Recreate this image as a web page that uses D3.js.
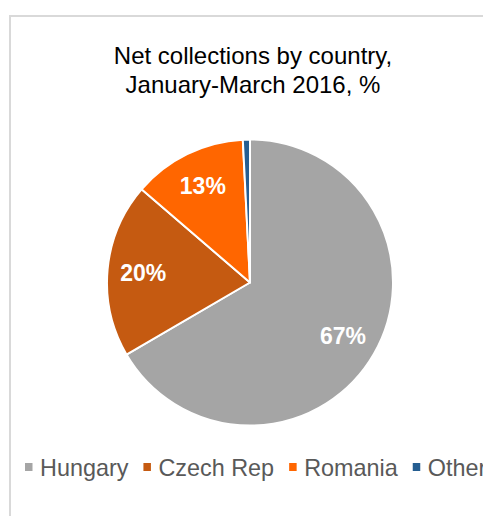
<!DOCTYPE html>
<html>
<head>
<meta charset="utf-8">
<script src="https://cdn.jsdelivr.net/npm/d3@7"></script>
<style>
  html, body { margin: 0; padding: 0; background: #fff; }
  svg { display: block; }
</style>
</head>
<body>
<svg id="chart" width="483" height="516"></svg>
<script>
const categories = ["Hungary", "Czech Rep", "Romania", "Other"];
const values = [66.6, 19.7, 12.9, 0.8];
const labels = ["67%", "20%", "13%", ""];
const colors = ["#a5a5a5", "#c55a11", "#ff6600", "#255e91"];
const titleLines = ["Net collections by country,", "January-March 2016, %"];

const W = 483, H = 516;
const svg = d3.select("#chart");
const font = "Arial, 'Liberation Sans', Helvetica, sans-serif";

// chart frame (extends past the visible window)
svg.append("rect")
  .attr("x", 10).attr("y", 16)
  .attr("width", 700).attr("height", 700)
  .attr("fill", "#fff")
  .attr("stroke", "#d9d9d9")
  .attr("stroke-width", 2);

// title
svg.append("text")
  .attr("x", 253).attr("y", 64)
  .attr("text-anchor", "middle")
  .attr("font-family", font)
  .attr("font-size", 24)
  .attr("fill", "#000")
  .selectAll("tspan")
  .data(titleLines)
  .join("tspan")
  .attr("x", 253)
  .attr("dy", (d, i) => i === 0 ? 0 : 28.5)
  .text(d => d);

// pie
const cx = 250, cy = 282.5, r = 143;
const data = categories.map((c, i) => ({ name: c, value: values[i], label: labels[i], color: colors[i] }));
const pie = d3.pie().sort(null).value(d => d.value);
const arcs = pie(data);
const arc = d3.arc().innerRadius(0).outerRadius(r);
const labelArc = d3.arc().innerRadius(r * 0.75).outerRadius(r * 0.75);

const g = svg.append("g").attr("transform", `translate(${cx},${cy})`);
g.selectAll("path")
  .data(arcs)
  .join("path")
  .attr("d", arc)
  .attr("fill", d => d.data.color)
  .attr("stroke", "#fff")
  .attr("stroke-width", 2)
  .attr("stroke-linejoin", "round");

g.selectAll("text.lbl")
  .data(arcs.filter(d => d.data.label))
  .join("text")
  .attr("class", "lbl")
  .attr("transform", d => { const [x, y] = labelArc.centroid(d); return `translate(${x},${y})`; })
  .attr("text-anchor", "middle")
  .attr("dy", "0.36em")
  .attr("font-family", font)
  .attr("font-weight", "bold")
  .attr("font-size", 23)
  .attr("fill", "#fff")
  .text(d => d.data.label);

// legend
const legend = svg.append("g");
let lx = 25;
const ly = 476;
data.forEach(d => {
  legend.append("rect")
    .attr("x", lx).attr("y", ly - 13)
    .attr("width", 7.5).attr("height", 8)
    .attr("fill", d.color);
  const t = legend.append("text")
    .attr("x", lx + 15).attr("y", ly)
    .attr("font-family", font)
    .attr("font-size", 23.4)
    .attr("fill", "#595959")
    .text(d.name);
  const w = t.node().getComputedTextLength();
  lx = lx + 15 + w + 15;
});
</script>
</body>
</html>
